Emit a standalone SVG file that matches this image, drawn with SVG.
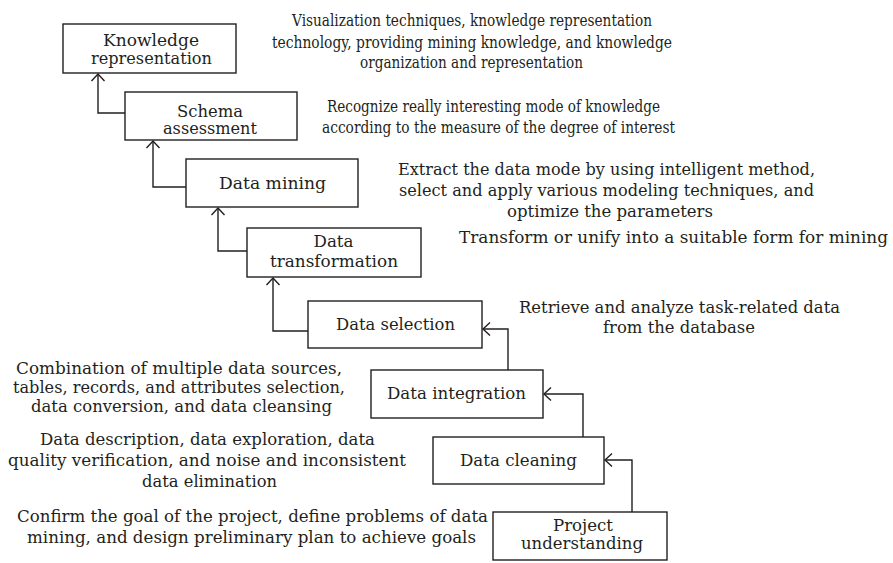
<svg xmlns="http://www.w3.org/2000/svg" width="893" height="563" viewBox="0 0 893 563" font-family="DejaVu Serif, serif">
<defs>
<style>
.box{fill:#fff;stroke:#231f20;stroke-width:1.4}
.lbl{font-family:"DejaVu Serif",serif;font-size:17px;fill:#231f20;text-anchor:middle}
.desc{font-family:"DejaVu Serif",serif;font-size:17px;fill:#231f20;text-anchor:middle}
.con{fill:none;stroke:#231f20;stroke-width:1.4;marker-end:url(#arr)}
</style>
<marker id="arr" markerUnits="userSpaceOnUse" markerWidth="16" markerHeight="16" refX="8" refY="8" orient="auto" viewBox="0 0 16 16">
<path d="M1,1.5 L8,8 L1,14.5" fill="none" stroke="#231f20" stroke-width="1.4"/>
</marker>
</defs>
<rect width="893" height="563" fill="#fff"/>
<g id="connectors">
<path class="con" d="M125,113 H98 V74"/>
<path class="con" d="M186,187 H153 V141"/>
<path class="con" d="M247,251 H218 V208"/>
<path class="con" d="M308,331 H273 V278"/>
<path class="con" d="M508,370 V329 H483"/>
<path class="con" d="M583,437 V394 H544"/>
<path class="con" d="M632,512 V460 H605"/>
</g>
<g id="n1"><rect class="box" x="63" y="24" width="173" height="49"/>
<text class="lbl" x="151" y="46" textLength="96" lengthAdjust="spacingAndGlyphs">Knowledge</text><text class="lbl" x="151.5" y="63.5" textLength="121" lengthAdjust="spacingAndGlyphs">representation</text></g>
<g id="n2"><rect class="box" x="125" y="92" width="172" height="48"/>
<text class="lbl" x="210" y="117" textLength="66" lengthAdjust="spacingAndGlyphs">Schema</text><text class="lbl" x="210" y="133.5" textLength="94" lengthAdjust="spacingAndGlyphs">assessment</text></g>
<g id="n3"><rect class="box" x="186" y="159" width="172" height="48"/>
<text class="lbl" x="272.5" y="189" textLength="107" lengthAdjust="spacingAndGlyphs">Data mining</text></g>
<g id="n4"><rect class="box" x="247" y="228" width="174" height="49"/>
<text class="lbl" x="333.5" y="246.5" textLength="40" lengthAdjust="spacingAndGlyphs">Data</text><text class="lbl" x="334" y="267" textLength="128" lengthAdjust="spacingAndGlyphs">transformation</text></g>
<g id="n5"><rect class="box" x="308" y="301" width="174" height="47"/>
<text class="lbl" x="395.5" y="330" textLength="119" lengthAdjust="spacingAndGlyphs">Data selection</text></g>
<g id="n6"><rect class="box" x="371" y="370" width="172" height="48"/>
<text class="lbl" x="456.5" y="399" textLength="139" lengthAdjust="spacingAndGlyphs">Data integration</text></g>
<g id="n7"><rect class="box" x="433" y="437" width="171" height="47"/>
<text class="lbl" x="518.5" y="466" textLength="117" lengthAdjust="spacingAndGlyphs">Data cleaning</text></g>
<g id="n8"><rect class="box" x="493" y="512" width="174" height="48"/>
<text class="lbl" x="583" y="531" textLength="60" lengthAdjust="spacingAndGlyphs">Project</text><text class="lbl" x="582" y="549" textLength="122" lengthAdjust="spacingAndGlyphs">understanding</text></g>
<g id="descriptions">
<text class="desc" x="472" y="26" textLength="360" lengthAdjust="spacingAndGlyphs">Visualization techniques, knowledge representation</text>
<text class="desc" x="472" y="48" textLength="400" lengthAdjust="spacingAndGlyphs">technology, providing mining knowledge, and knowledge</text>
<text class="desc" x="471.5" y="68" textLength="223" lengthAdjust="spacingAndGlyphs">organization and representation</text>
<text class="desc" x="493.5" y="112" textLength="333" lengthAdjust="spacingAndGlyphs">Recognize really interesting mode of knowledge</text>
<text class="desc" x="498.5" y="133" textLength="353" lengthAdjust="spacingAndGlyphs">according to the measure of the degree of interest</text>
<text class="desc" x="606.5" y="175" textLength="417" lengthAdjust="spacingAndGlyphs">Extract the data mode by using intelligent method,</text>
<text class="desc" x="606.5" y="196" textLength="415" lengthAdjust="spacingAndGlyphs">select and apply various modeling techniques, and</text>
<text class="desc" x="610" y="217" textLength="206" lengthAdjust="spacingAndGlyphs">optimize the parameters</text>
<text class="desc" x="673.5" y="243" textLength="429" lengthAdjust="spacingAndGlyphs">Transform or unify into a suitable form for mining</text>
<text class="desc" x="679.5" y="313" textLength="321" lengthAdjust="spacingAndGlyphs">Retrieve and analyze task-related data</text>
<text class="desc" x="679" y="333" textLength="152" lengthAdjust="spacingAndGlyphs">from the database</text>
<text class="desc" x="179" y="374" textLength="326" lengthAdjust="spacingAndGlyphs">Combination of multiple data sources,</text>
<text class="desc" x="179" y="393" textLength="332" lengthAdjust="spacingAndGlyphs">tables, records, and attributes selection,</text>
<text class="desc" x="181.5" y="412" textLength="301" lengthAdjust="spacingAndGlyphs">data conversion, and data cleansing</text>
<text class="desc" x="207.5" y="445" textLength="335" lengthAdjust="spacingAndGlyphs">Data description, data exploration, data</text>
<text class="desc" x="207" y="466" textLength="398" lengthAdjust="spacingAndGlyphs">quality verification, and noise and inconsistent</text>
<text class="desc" x="209.5" y="487" textLength="135" lengthAdjust="spacingAndGlyphs">data elimination</text>
<text class="desc" x="252.5" y="522" textLength="471" lengthAdjust="spacingAndGlyphs">Confirm the goal of the project, define problems of data</text>
<text class="desc" x="251.5" y="543" textLength="449" lengthAdjust="spacingAndGlyphs">mining, and design preliminary plan to achieve goals</text>
</g>
</svg>
